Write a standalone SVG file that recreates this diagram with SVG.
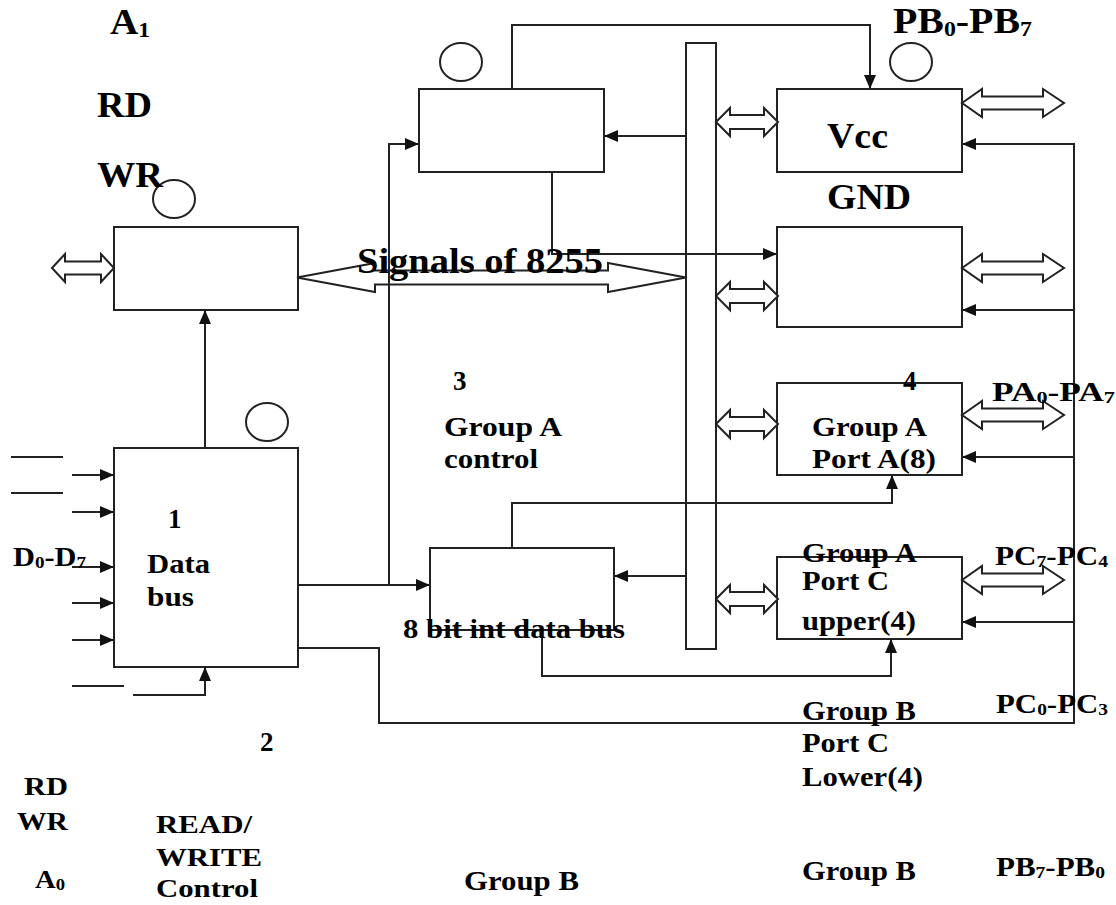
<svg xmlns="http://www.w3.org/2000/svg" width="1116" height="905" viewBox="0 0 1116 905">
<defs>
<style>
.box{fill:#fff;stroke:#222;stroke-width:2}
.dbl{fill:#fff;stroke:#222;stroke-width:2;stroke-linejoin:miter}
.ln{fill:none;stroke:#222;stroke-width:2}
.circ{fill:#fff;stroke:#222;stroke-width:2}
text{font-family:"Liberation Serif","Times New Roman",serif;font-weight:bold;fill:#000}
.L{font-size:35px}
.M{font-size:27px}
.S{font-size:26px}
.subL{font-size:21px}
.subM{font-size:17px}
</style>
<marker id="ah" viewBox="0 0 14 12" refX="14" refY="6" markerWidth="14" markerHeight="12" markerUnits="userSpaceOnUse" orient="auto">
<path d="M0,0 L14,6 L0,12 Z" fill="#111"/>
</marker>
</defs>
<rect width="1116" height="905" fill="#fff"/>

<g id="bus-bar"><rect class="box" x="686" y="43" width="30" height="606"/></g>

<g id="buffer-node">
<rect class="box" x="114" y="227" width="184" height="83"/>
<ellipse class="circ" cx="174" cy="199" rx="21" ry="19"/>
</g>
<g id="top-control-node">
<rect class="box" x="419" y="89" width="185" height="83"/>
<ellipse class="circ" cx="461" cy="62" rx="21" ry="19"/>
</g>
<g id="vcc-node">
<rect class="box" x="777" y="89" width="185" height="83"/>
<ellipse class="circ" cx="911" cy="62" rx="21" ry="19"/>
<text class="L" x="827" y="148" textLength="61" lengthAdjust="spacingAndGlyphs">Vcc</text>
</g>
<g id="gnd-node">
<rect class="box" x="777" y="227" width="185" height="100"/>
</g>
<g id="porta-node">
<rect class="box" x="777" y="383" width="185" height="92"/>
</g>
<g id="portc-upper-node">
<rect class="box" x="777" y="557" width="185" height="82"/>
</g>
<g id="databus-node">
<rect class="box" x="114" y="448" width="184" height="219"/>
<ellipse class="circ" cx="267" cy="422" rx="21" ry="19"/>
</g>
<g id="intbus-node">
<rect class="box" x="430" y="548" width="184" height="82"/>
</g>

<g id="double-arrows">
<path class="dbl" d="M52,268 L65,254 L65,261.5 L101,261.5 L101,254 L114,268 L101,282 L101,274.5 L65,274.5 L65,282 Z"/>
<path class="dbl" d="M297,277.5 L375,263 L375,270.5 L608,270.5 L608,263 L686,277.5 L608,292 L608,284.5 L375,284.5 L375,292 Z"/>
<path class="dbl" d="M716,122 L730,108 L730,115 L764,115 L764,108 L778,122 L764,136 L764,129 L730,129 L730,136 Z"/>
<path class="dbl" d="M716,296 L730,282 L730,289 L764,289 L764,282 L778,296 L764,310 L764,303 L730,303 L730,310 Z"/>
<path class="dbl" d="M716,424 L730,410 L730,417 L764,417 L764,410 L778,424 L764,438 L764,431 L730,431 L730,438 Z"/>
<path class="dbl" d="M716,599 L730,585 L730,592 L764,592 L764,585 L778,599 L764,613 L764,606 L730,606 L730,613 Z"/>
<path class="dbl" d="M962,103 L982,89 L982,96.5 L1043,96.5 L1043,89 L1064,103 L1043,117 L1043,109.5 L982,109.5 L982,117 Z"/>
<path class="dbl" d="M962,268 L982,254 L982,261.5 L1043,261.5 L1043,254 L1064,268 L1043,282 L1043,274.5 L982,274.5 L982,282 Z"/>
<path class="dbl" d="M962,415 L982,401 L982,408.5 L1043,408.5 L1043,401 L1064,415 L1043,429 L1043,421.5 L982,421.5 L982,429 Z"/>
<path class="dbl" d="M962,580 L982,566 L982,573.5 L1043,573.5 L1043,566 L1064,580 L1043,594 L1043,586.5 L982,586.5 L982,594 Z"/>
</g>

<g id="connectors">
<path class="ln" d="M512,89 V25 H870 V89" marker-end="url(#ah)"/>
<path class="ln" d="M686,136 H604" marker-end="url(#ah)"/>
<path class="ln" d="M298,585 H430" marker-end="url(#ah)"/>
<path class="ln" d="M389,585 V144 H419" marker-end="url(#ah)"/>
<path class="ln" d="M552,172 V254 H777" marker-end="url(#ah)"/>
<path class="ln" d="M205,448 V310" marker-end="url(#ah)"/>
<path class="ln" d="M512,548 V503 H892 V475" marker-end="url(#ah)"/>
<path class="ln" d="M686,576 H614" marker-end="url(#ah)"/>
<path class="ln" d="M542,630 V676 H891 V639" marker-end="url(#ah)"/>
<path class="ln" d="M298,648 H379 V723 H1074 V144 H962" marker-end="url(#ah)"/>
<path class="ln" d="M1074,310 H962" marker-end="url(#ah)"/>
<path class="ln" d="M1074,457 H962" marker-end="url(#ah)"/>
<path class="ln" d="M1074,622 H962" marker-end="url(#ah)"/>
<path class="ln" d="M72,475 H114" marker-end="url(#ah)"/>
<path class="ln" d="M72,512 H114" marker-end="url(#ah)"/>
<path class="ln" d="M72,567 H114" marker-end="url(#ah)"/>
<path class="ln" d="M72,603 H114" marker-end="url(#ah)"/>
<path class="ln" d="M72,640 H114" marker-end="url(#ah)"/>
<path class="ln" d="M133,695 H205 V667" marker-end="url(#ah)"/>
<path class="ln" d="M11,457 H63 M11,493 H63 M72,686 H124"/>
</g>

<g id="labels">
<text class="L" x="110" y="34" textLength="40" lengthAdjust="spacingAndGlyphs">A<tspan class="subL" dy="3">1</tspan></text>
<text class="L" x="97" y="117" textLength="55" lengthAdjust="spacingAndGlyphs">RD</text>
<text class="L" x="97" y="187" textLength="66" lengthAdjust="spacingAndGlyphs">WR</text>
<text class="L" x="893" y="33" textLength="139" lengthAdjust="spacingAndGlyphs">PB<tspan class="subL" dy="3">0</tspan><tspan dy="-3">-PB</tspan><tspan class="subL" dy="3">7</tspan></text>
<text class="L" x="827" y="209" textLength="84" lengthAdjust="spacingAndGlyphs">GND</text>
<text class="L" x="357" y="273" textLength="246" lengthAdjust="spacingAndGlyphs">Signals of 8255</text>

<text class="M" x="168" y="528">1</text>
<text class="M" x="13" y="566" textLength="73" lengthAdjust="spacingAndGlyphs">D<tspan class="subM" dy="2">0</tspan><tspan dy="-2">-D</tspan><tspan class="subM" dy="2">7</tspan></text>
<text class="M" x="147" y="573" textLength="63" lengthAdjust="spacingAndGlyphs">Data</text>
<text class="M" x="147" y="606" textLength="47" lengthAdjust="spacingAndGlyphs">bus</text>

<text class="M" x="453" y="390">3</text>
<text class="M" x="444" y="436" textLength="118" lengthAdjust="spacingAndGlyphs">Group A</text>
<text class="M" x="444" y="468" textLength="94" lengthAdjust="spacingAndGlyphs">control</text>

<text class="M" x="903" y="390">4</text>
<text class="M" x="812" y="436" textLength="115" lengthAdjust="spacingAndGlyphs">Group A</text>
<text class="M" x="812" y="468" textLength="124" lengthAdjust="spacingAndGlyphs">Port A(8)</text>
<text class="M" x="992" y="401" textLength="123" lengthAdjust="spacingAndGlyphs">PA<tspan class="subM" dy="2">0</tspan><tspan dy="-2">-PA</tspan><tspan class="subM" dy="2">7</tspan></text>

<text class="M" x="802" y="562" textLength="115" lengthAdjust="spacingAndGlyphs">Group A</text>
<text class="M" x="802" y="590" textLength="87" lengthAdjust="spacingAndGlyphs">Port C</text>
<text class="M" x="802" y="630" textLength="114" lengthAdjust="spacingAndGlyphs">upper(4)</text>
<text class="M" x="995" y="565" textLength="113" lengthAdjust="spacingAndGlyphs">PC<tspan class="subM" dy="2">7</tspan><tspan dy="-2">-PC</tspan><tspan class="subM" dy="2">4</tspan></text>

<text class="M" x="403" y="638" textLength="222" lengthAdjust="spacingAndGlyphs">8 bit int data bus</text>

<text class="M" x="260" y="751">2</text>
<text class="S" x="24" y="795" textLength="44" lengthAdjust="spacingAndGlyphs">RD</text>
<text class="S" x="17" y="830" textLength="51" lengthAdjust="spacingAndGlyphs">WR</text>
<text class="S" x="35" y="888" textLength="30" lengthAdjust="spacingAndGlyphs">A<tspan class="subM" dy="2">0</tspan></text>
<text class="S" x="156" y="833" textLength="96" lengthAdjust="spacingAndGlyphs">READ/</text>
<text class="S" x="156" y="866" textLength="106" lengthAdjust="spacingAndGlyphs">WRITE</text>
<text class="S" x="156" y="897" textLength="102" lengthAdjust="spacingAndGlyphs">Control</text>
<text class="M" x="464" y="890" textLength="115" lengthAdjust="spacingAndGlyphs">Group B</text>

<text class="M" x="802" y="720" textLength="114" lengthAdjust="spacingAndGlyphs">Group B</text>
<text class="M" x="802" y="752" textLength="87" lengthAdjust="spacingAndGlyphs">Port C</text>
<text class="M" x="802" y="786" textLength="121" lengthAdjust="spacingAndGlyphs">Lower(4)</text>
<text class="M" x="802" y="880" textLength="114" lengthAdjust="spacingAndGlyphs">Group B</text>
<text class="M" x="996" y="713" textLength="112" lengthAdjust="spacingAndGlyphs">PC<tspan class="subM" dy="2">0</tspan><tspan dy="-2">-PC</tspan><tspan class="subM" dy="2">3</tspan></text>
<text class="M" x="996" y="876" textLength="109" lengthAdjust="spacingAndGlyphs">PB<tspan class="subM" dy="2">7</tspan><tspan dy="-2">-PB</tspan><tspan class="subM" dy="2">0</tspan></text>
</g>
</svg>
